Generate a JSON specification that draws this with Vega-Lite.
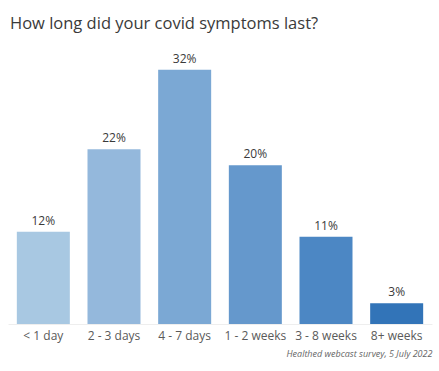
{
  "$schema": "https://vega.github.io/schema/vega-lite/v6.json",
  "autosize": {"type": "none"},
  "width": 424,
  "height": 278,
  "padding": {"left": 8, "top": 46, "right": 7, "bottom": 47},
  "background": "white",
  "config": {
    "font": "Open Sans",
    "view": {"stroke": null}
  },
  "title": {
    "text": "How long did your covid symptoms last?",
    "anchor": "start",
    "fontSize": 16.5,
    "fontWeight": "normal",
    "color": "#3a3a3a",
    "offset": 14,
    "dx": 2
  },
  "data": {
    "values": [
      {"duration": "< 1 day", "pct": 11.6, "label": "12%", "order": 1},
      {"duration": "2 - 3 days", "pct": 22, "label": "22%", "order": 2},
      {"duration": "4 - 7 days", "pct": 32, "label": "32%", "order": 3},
      {"duration": "1 - 2 weeks", "pct": 20, "label": "20%", "order": 4},
      {"duration": "3 - 8 weeks", "pct": 11, "label": "11%", "order": 5},
      {"duration": "8+ weeks", "pct": 2.6, "label": "3%", "order": 6}
    ]
  },
  "encoding": {
    "x": {
      "field": "duration",
      "type": "nominal",
      "sort": {"field": "order"},
      "scale": {"paddingInner": 0.25, "paddingOuter": 0.125},
      "axis": {
        "title": "Healthed webcast survey, 5 July 2022",
        "titleAnchor": "end",
        "titleFontStyle": "italic",
        "titleFontWeight": "normal",
        "titleFontSize": 9,
        "titleColor": "#666666",
        "titlePadding": 8,
        "labelAngle": 0,
        "labelFontSize": 12,
        "labelColor": "#5a5a5a",
        "labelPadding": 6,
        "ticks": false,
        "domainColor": "#eeeeee"
      }
    },
    "y": {
      "field": "pct",
      "type": "quantitative",
      "scale": {"domain": [0, 35]},
      "axis": null
    }
  },
  "layer": [
    {
      "mark": {"type": "bar"},
      "encoding": {
        "color": {
          "field": "duration",
          "type": "nominal",
          "sort": {"field": "order"},
          "scale": {"range": ["#a8c8e2", "#94b8dc", "#7ba8d4", "#6598cc", "#4c87c4", "#3274b8"]},
          "legend": null
        }
      }
    },
    {
      "mark": {"type": "text", "dy": -4, "fontSize": 12, "color": "#3a3a3a", "baseline": "bottom"},
      "encoding": {"text": {"field": "label"}}
    }
  ]
}
